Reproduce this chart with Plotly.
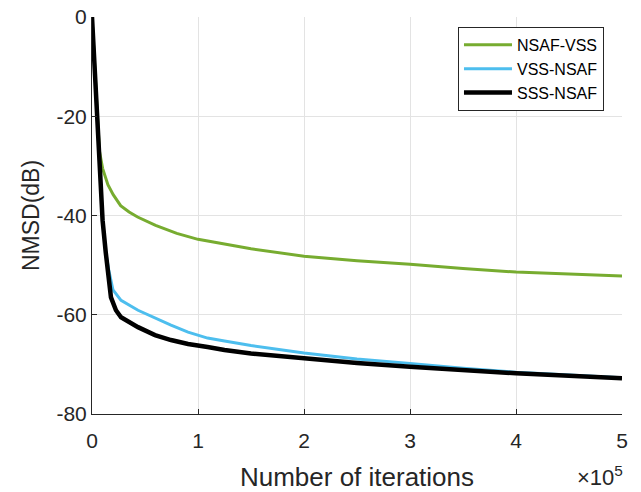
import plotly.graph_objects as go

# x in units of 1e5 iterations
x_nsaf_vss = [0, 0.03, 0.07, 0.1, 0.15, 0.2, 0.27, 0.35, 0.43, 0.6, 0.8, 1.0, 1.25, 1.5, 2.0, 2.5, 3.0, 3.5, 4.0, 4.5, 5.0]
y_nsaf_vss = [0, -12, -27, -30.5, -33.8, -35.8, -38, -39.3, -40.3, -42, -43.6, -44.8, -45.8, -46.7, -48.2, -49.1, -49.8, -50.7, -51.4, -51.8, -52.2]

x_vss_nsaf = [0, 0.03, 0.075, 0.1, 0.13, 0.158, 0.198, 0.274, 0.434, 0.594, 0.745, 0.906, 1.09, 1.25, 1.5, 2.0, 2.5, 3.0, 3.5, 4.0, 4.5, 5.0]
y_vss_nsaf = [0, -12, -29, -41, -47.5, -51, -55, -57.1, -59.1, -60.7, -62.1, -63.5, -64.7, -65.3, -66.2, -67.7, -68.9, -69.8, -70.8, -71.6, -72.2, -72.7]

x_sss_nsaf = [0, 0.03, 0.075, 0.1, 0.13, 0.158, 0.179, 0.226, 0.274, 0.434, 0.594, 0.745, 0.906, 1.09, 1.25, 1.5, 2.0, 2.5, 3.0, 3.5, 4.0, 4.5, 5.0]
y_sss_nsaf = [0, -12, -29, -41, -47.5, -52, -56.5, -59.1, -60.5, -62.5, -64.1, -65.1, -65.9, -66.5, -67.1, -67.8, -68.8, -69.7, -70.5, -71.2, -71.8, -72.3, -72.8]

x_tick_vals = [0, 1, 2, 3, 4, 5]
x_tick_text = ["0", "1", "2", "3", "4", "5"]
y_tick_vals = [-80, -60, -40, -20, 0]
y_tick_text = ["-80", "-60", "-40", "-20", "0"]

scale = 1e5

fig = go.Figure()
fig.add_trace(go.Scatter(x=[v * scale for v in x_nsaf_vss], y=y_nsaf_vss, mode="lines",
                         name="NSAF-VSS", line=dict(color="#77AC30", width=3)))
fig.add_trace(go.Scatter(x=[v * scale for v in x_vss_nsaf], y=y_vss_nsaf, mode="lines",
                         name="VSS-NSAF", line=dict(color="#4DBEEE", width=3)))
fig.add_trace(go.Scatter(x=[v * scale for v in x_sss_nsaf], y=y_sss_nsaf, mode="lines",
                         name="SSS-NSAF", line=dict(color="#000000", width=4.5)))

axis_col = "#262626"
fig.update_layout(
    width=641, height=492,
    margin=dict(l=92, r=19, t=17, b=78),
    paper_bgcolor="white", plot_bgcolor="white",
    font=dict(family="Liberation Sans, Arial, sans-serif", color=axis_col),
    showlegend=True,
    legend=dict(x=0.966, y=0.975, xanchor="right", yanchor="top",
                bordercolor=axis_col, borderwidth=1, bgcolor="white",
                font=dict(size=16, color="#000000"), tracegroupgap=0, itemwidth=48),
    xaxis=dict(range=[0, 5 * scale], tickvals=[v * scale for v in x_tick_vals], ticktext=x_tick_text,
               showgrid=True, gridcolor="#e3e3e3", zeroline=False, automargin=False,
               showline=True, linecolor=axis_col, linewidth=1, mirror=False,
               ticks="inside", ticklen=5, tickcolor=axis_col, ticklabelstandoff=8,
               tickfont=dict(size=21, color=axis_col),
               title=dict(text="Number of iterations", font=dict(size=26, color=axis_col), standoff=16)),
    yaxis=dict(range=[-80, 0], tickvals=y_tick_vals, ticktext=y_tick_text,
               showgrid=True, gridcolor="#e3e3e3", zeroline=False, automargin=False,
               showline=True, linecolor=axis_col, linewidth=1, mirror=False,
               ticks="inside", ticklen=5, tickcolor=axis_col,
               tickfont=dict(size=21, color=axis_col),
               title=dict(text="NMSD(dB)", font=dict(size=23, color=axis_col), standoff=10)),
    annotations=[dict(text="×10<sup>5</sup>", xref="paper", yref="paper", x=1.005, y=-0.155,
                      xanchor="right", yanchor="middle", showarrow=False,
                      font=dict(size=22, color=axis_col))],
)

fig.write_html("out.html", config={"displayModeBar": False},
               post_script="document.body.style.margin='0';document.body.style.overflow='hidden';")
